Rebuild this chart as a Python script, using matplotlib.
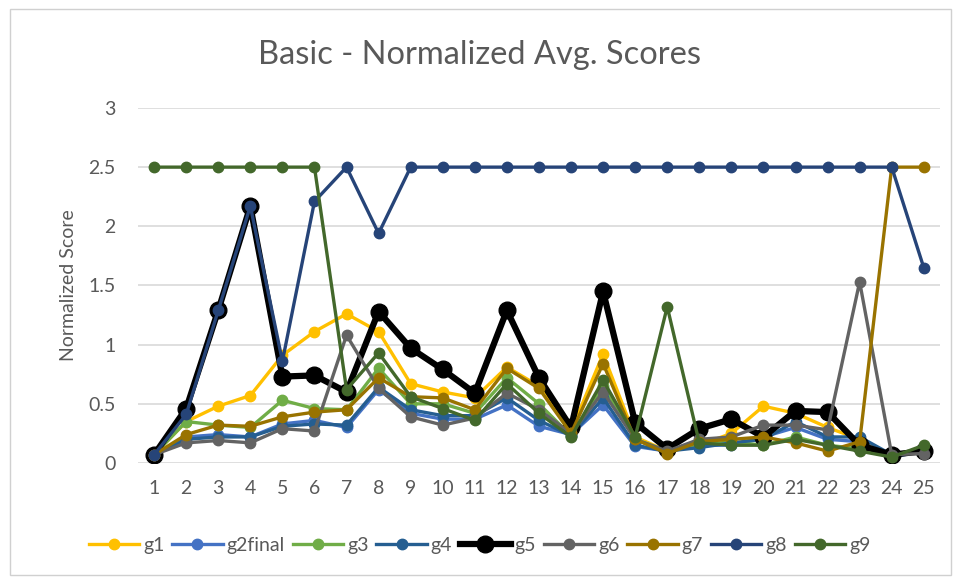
import matplotlib
matplotlib.use("Agg")
import matplotlib.pyplot as plt
from matplotlib.patches import Rectangle

plt.rcParams['font.family'] = ['Lato', 'DejaVu Sans']

categories = list(range(1, 26))

g1 = [0.07, 0.35, 0.48, 0.57, 0.91, 1.11, 1.26, 1.11, 0.67, 0.60, 0.55, 0.81, 0.65, 0.27, 0.92, 0.22,
      0.10, 0.15, 0.25, 0.48, 0.42, 0.30, 0.20, 0.05, 0.12]
g2final = [0.07, 0.22, 0.24, 0.22, 0.33, 0.36, 0.30, 0.62, 0.42, 0.37, 0.37, 0.49, 0.31, 0.24, 0.49, 0.14,
           0.10, 0.15, 0.15, 0.22, 0.30, 0.20, 0.18, 0.05, 0.10]
g3 = [0.07, 0.35, 0.32, 0.30, 0.53, 0.46, 0.45, 0.80, 0.50, 0.50, 0.42, 0.72, 0.50, 0.23, 0.65, 0.20,
      0.10, 0.15, 0.18, 0.15, 0.22, 0.15, 0.12, 0.05, 0.12]
g4 = [0.07, 0.20, 0.22, 0.22, 0.31, 0.33, 0.32, 0.64, 0.45, 0.40, 0.40, 0.55, 0.36, 0.23, 0.55, 0.15,
      0.10, 0.13, 0.17, 0.20, 0.35, 0.22, 0.22, 0.07, 0.10]
g5 = [0.07, 0.46, 1.29, 2.17, 0.73, 0.74, 0.60, 1.28, 0.97, 0.79, 0.59, 1.29, 0.72, 0.30, 1.45, 0.34,
      0.12, 0.29, 0.37, 0.22, 0.44, 0.43, 0.15, 0.07, 0.10]
g6 = [0.07, 0.17, 0.19, 0.17, 0.29, 0.27, 1.08, 0.63, 0.39, 0.32, 0.38, 0.59, 0.45, 0.25, 0.60, 0.20,
      0.10, 0.20, 0.22, 0.32, 0.32, 0.28, 1.53, 0.07, 0.08]
g7 = [0.07, 0.24, 0.32, 0.31, 0.39, 0.43, 0.45, 0.72, 0.56, 0.55, 0.45, 0.80, 0.63, 0.25, 0.84, 0.20,
      0.08, 0.18, 0.20, 0.22, 0.17, 0.10, 0.18, 2.50, 2.50]
g8 = [0.07, 0.41, 1.29, 2.17, 0.86, 2.21, 2.50, 1.94, 2.50, 2.50, 2.50, 2.50, 2.50, 2.50, 2.50, 2.50,
      2.50, 2.50, 2.50, 2.50, 2.50, 2.50, 2.50, 2.50, 1.65]
g9 = [2.50, 2.50, 2.50, 2.50, 2.50, 2.50, 0.62, 0.93, 0.56, 0.46, 0.36, 0.67, 0.42, 0.22, 0.70, 0.22,
      1.32, 0.17, 0.15, 0.15, 0.20, 0.15, 0.10, 0.05, 0.15]

series_names = ["g1", "g2final", "g3", "g4", "g5", "g6", "g7", "g8", "g9"]
series_values = [g1, g2final, g3, g4, g5, g6, g7, g8, g9]
series_colors = ["#FFC000", "#4472C4", "#70AD47", "#255E91", "#000000",
                 "#636363", "#997300", "#264478", "#43682B"]

fig = plt.figure(figsize=(9.59, 5.82), dpi=100)
fig.patches.append(Rectangle((0.010, 0.012), 0.982, 0.972, transform=fig.transFigure,
                             fill=False, edgecolor="#D0D0D0", linewidth=1.0))

ax = fig.add_axes([0.144, 0.2045, 0.836, 0.61])
x = list(range(len(categories)))
for name, vals, col in zip(series_names, series_values, series_colors):
    if name == "g5":
        ax.plot(x, vals, color=col, linewidth=4.5, marker="o", markersize=12,
                label=name, zorder=3, solid_joinstyle="round")
    else:
        ax.plot(x, vals, color=col, linewidth=2.4, marker="o", markersize=7.5,
                label=name, zorder=3, solid_joinstyle="round")

ax.set_xlim(-0.5, len(categories) - 0.5)
ax.set_ylim(0, 3)
ax.set_yticks([0, 0.5, 1, 1.5, 2, 2.5, 3])
ax.set_yticklabels(["0", "0.5", "1", "1.5", "2", "2.5", "3"])
ax.set_xticks(x)
ax.set_xticklabels([str(c) for c in categories])
ax.tick_params(axis="both", length=0, labelsize=14, labelcolor="#595959")
ax.tick_params(axis="y", pad=16)
ax.tick_params(axis="x", pad=12)
ax.grid(axis="y", color="#D9D9D9", linewidth=1.2)
ax.set_axisbelow(True)
for s in ax.spines.values():
    s.set_visible(False)

ax.set_ylabel("Normalized Score", fontsize=14, color="#595959", labelpad=8)
fig.text(0.5, 1 - 55 / 582, "Basic - Normalized Avg. Scores", ha="center", va="center",
         fontsize=23.5, color="#595959")

handles, labels = ax.get_legend_handles_labels()
fig.legend(handles, labels, loc="center", bbox_to_anchor=(0.50, 1 - 545 / 582), ncol=9,
           frameon=False, fontsize=14, labelcolor="#595959", handlelength=2.6,
           columnspacing=0.4, handletextpad=0.2)

fig.savefig("out.png", dpi=100, facecolor="white")
